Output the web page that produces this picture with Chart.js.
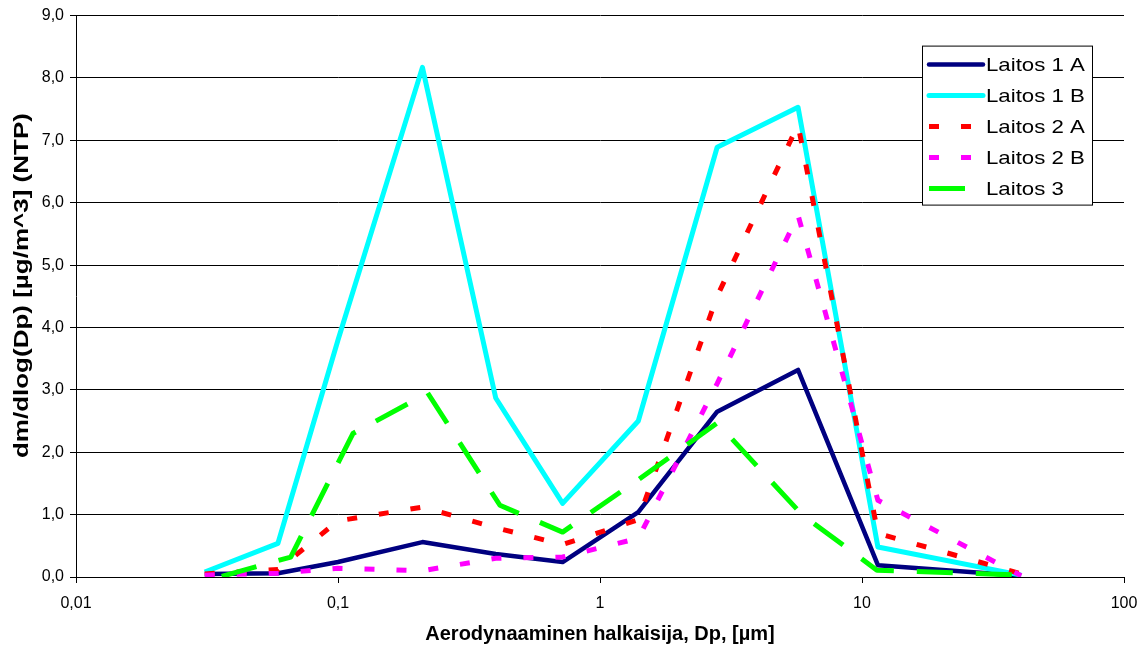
<!DOCTYPE html>
<html>
<head>
<meta charset="utf-8">
<script src="https://cdn.jsdelivr.net/npm/chart.js@4"></script>
<style>
  html, body { margin: 0; padding: 0; background: #fff; }
  #wrap { width: 1147px; height: 650px; }
</style>
</head>
<body>
<div id="wrap"><canvas id="sizeChart"></canvas></div>
<script>
// Particle size (µm), same stages for plants 1 and 2
const sizes = [0.031, 0.059, 0.10, 0.21, 0.40, 0.72, 1.4, 2.8, 5.7, 11.5, 40.5];
// Plant 3 was measured on slightly shifted stages
const sizes3 = [0.036, 0.066, 0.114, 0.22, 0.415, 0.72, 1.4, 2.8, 5.9, 11.4, 40];

const laitos1A = [0.05, 0.06, 0.24, 0.56, 0.37, 0.24, 1.04, 2.65, 3.32, 0.19, 0.02];
const laitos1B = [0.08, 0.54, 3.8, 8.17, 2.87, 1.18, 2.5, 6.89, 7.53, 0.48, 0.03];
const laitos2A = [0.05, 0.12, 0.9, 1.12, 0.79, 0.52, 0.92, 4.5, 7.25, 0.70, 0.05];
const laitos2B = [0.03, 0.06, 0.14, 0.10, 0.30, 0.32, 0.62, 3.1, 5.8, 1.23, 0.02];
const laitos3 = [0.01, 0.32, 2.3, 2.95, 1.15, 0.72, 1.56, 2.47, 1.0, 0.11, 0.03];

const xTicks = [0.01, 0.1, 1, 10, 100];
const yMax = 9;
const yTitle = 'dm/dlog(Dp) [µg/m^3] (NTP)';

const pts = (xs, ys) => ys.map((y, i) => ({ x: xs[i], y: y }));
const fmt = (v, d) => (d == null ? String(v) : v.toFixed(d)).replace('.', ',');

const FONT = '"Liberation Sans", Arial, sans-serif';
Chart.defaults.font.family = FONT;
Chart.defaults.color = '#000';

// y title is drawn by hand so it can be stretched along the axis
const yAxisTitle = {
  id: 'yAxisTitle',
  afterDraw(chart) {
    const ctx = chart.ctx;
    ctx.save();
    ctx.translate(22, chart.chartArea.top + 270);
    ctx.rotate(-Math.PI / 2);
    ctx.scale(1.3, 1);
    ctx.font = 'bold 20px ' + FONT;
    ctx.fillStyle = '#000';
    ctx.textAlign = 'center';
    ctx.textBaseline = 'middle';
    ctx.fillText(yTitle, 0, 0);
    ctx.restore();
  }
};

// legend drawn inside the plot, top right, with a box around it
const legendBox = {
  id: 'legendBox',
  afterDraw(chart) {
    const ctx = chart.ctx;
    const area = chart.chartArea;
    const x = area.right - 202, y = area.top + 30, w = 170, h = 159;
    ctx.save();
    ctx.fillStyle = '#fff';
    ctx.fillRect(x, y, w, h);
    ctx.strokeStyle = '#000';
    ctx.lineWidth = 1;
    ctx.setLineDash([]);
    ctx.strokeRect(x + 0.5, y + 0.5, w, h);
    ctx.textBaseline = 'middle';
    chart.data.datasets.forEach((ds, i) => {
      const ry = y + 19 + i * 31;
      ctx.beginPath();
      ctx.strokeStyle = ds.borderColor;
      ctx.lineWidth = ds.borderWidth;
      ctx.setLineDash(ds.borderDash || []);
      ctx.lineCap = ds.borderDash ? 'butt' : 'round';
      ctx.moveTo(x + 7, ry);
      ctx.lineTo(x + 61, ry);
      ctx.stroke();
      ctx.save();
      ctx.translate(x + 64, ry + 1);
      ctx.scale(1.17, 1);
      ctx.font = '19px ' + FONT;
      ctx.fillStyle = '#000';
      ctx.fillText(ds.label, 0, 0);
      ctx.restore();
    });
    ctx.restore();
  }
};

new Chart(document.getElementById('sizeChart'), {
  type: 'line',
  data: {
    datasets: [
      { label: 'Laitos 1 A', data: pts(sizes, laitos1A), borderColor: '#000080', borderWidth: 4.5, order: 5 },
      { label: 'Laitos 1 B', data: pts(sizes, laitos1B), borderColor: '#00FFFF', borderWidth: 5, order: 4 },
      { label: 'Laitos 2 A', data: pts(sizes, laitos2A), borderColor: '#FF0000', borderWidth: 5, borderDash: [10, 22], order: 3 },
      { label: 'Laitos 2 B', data: pts(sizes, laitos2B), borderColor: '#FF00FF', borderWidth: 5, borderDash: [10, 22], order: 2 },
      { label: 'Laitos 3', data: pts(sizes3, laitos3), borderColor: '#00FF00', borderWidth: 5, borderDash: [36, 23], order: 1 }
    ]
  },
  options: {
    responsive: true,
    maintainAspectRatio: false,
    animation: false,
    layout: { padding: { top: 13, right: 23, left: 0, bottom: 0 } },
    elements: {
      point: { radius: 0 },
      line: { tension: 0, borderJoinStyle: 'round', fill: false }
    },
    plugins: {
      legend: { display: false },
      tooltip: { enabled: false }
    },
    scales: {
      x: {
        type: 'logarithmic',
        min: 0.01,
        max: 100,
        afterBuildTicks: (axis) => { axis.ticks = xTicks.map(v => ({ value: v })); },
        afterFit: (axis) => { axis.height = 73; },
        ticks: {
          autoSkip: false,
          maxRotation: 0,
          padding: 9,
          font: { size: 16, lineHeight: 1.5 },
          callback: (v) => fmt(v)
        },
        grid: { drawOnChartArea: false, tickLength: 6, color: '#000' },
        border: { color: '#000' },
        title: {
          display: true,
          text: 'Aerodynaaminen halkaisija, Dp, [µm]',
          font: { size: 20, weight: 'bold' },
          padding: { top: 0, bottom: 4 }
        }
      },
      y: {
        min: 0,
        max: yMax,
        afterFit: (axis) => { axis.width = 76; },
        ticks: {
          stepSize: 1,
          padding: 6,
          font: { size: 16 },
          callback: (v) => fmt(v, 1)
        },
        grid: { color: '#000', tickLength: 6 },
        border: { color: '#000' },
        title: { display: false }
      }
    }
  },
  plugins: [legendBox, yAxisTitle]
});
</script>
</body>
</html>
